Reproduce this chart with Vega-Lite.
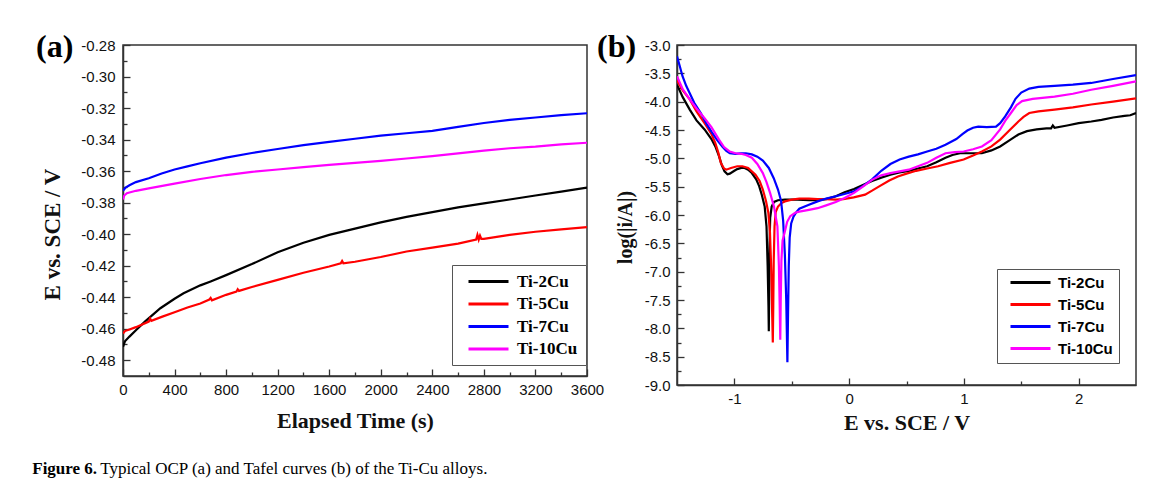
{
  "$schema": "https://vega.github.io/schema/vega-lite/v6.json",
  "background": "white",
  "padding": {"left": 32, "top": 30, "right": 10, "bottom": 20},
  "bounds": "flush",
  "spacing": 90,
  "title": {
    "text": "Figure 6.",
    "subtitle": "\u200b\u00a0\u00a0\u00a0\u00a0\u00a0\u00a0\u00a0\u00a0\u00a0\u00a0\u00a0\u00a0\u00a0\u00a0\u00a0\u00a0Typical OCP (a) and Tafel curves (b) of the Ti-Cu alloys.",
    "orient": "bottom",
    "anchor": "start",
    "frame": "bounds",
    "dx": -3,
    "font": "Liberation Serif",
    "fontSize": 17,
    "fontWeight": "bold",
    "color": "black",
    "subtitleFont": "Liberation Serif",
    "subtitleFontSize": 17,
    "subtitleFontWeight": "normal",
    "subtitleColor": "black",
    "subtitlePadding": -17,
    "offset": 27
  },
  "datasets": {
    "ocp": [
      {"s":"Ti-2Cu","t":0,"E":-0.4715},{"s":"Ti-2Cu","t":15,"E":-0.468},{"s":"Ti-2Cu","t":50,"E":-0.465},{"s":"Ti-2Cu","t":100,"E":-0.461},{"s":"Ti-2Cu","t":170,"E":-0.4555},{"s":"Ti-2Cu","t":290,"E":-0.447},{"s":"Ti-2Cu","t":400,"E":-0.441},{"s":"Ti-2Cu","t":470,"E":-0.4375},{"s":"Ti-2Cu","t":600,"E":-0.4325},{"s":"Ti-2Cu","t":680,"E":-0.43},{"s":"Ti-2Cu","t":800,"E":-0.426},{"s":"Ti-2Cu","t":1000,"E":-0.419},{"s":"Ti-2Cu","t":1200,"E":-0.4115},{"s":"Ti-2Cu","t":1400,"E":-0.4055},{"s":"Ti-2Cu","t":1600,"E":-0.4005},{"s":"Ti-2Cu","t":1800,"E":-0.3965},{"s":"Ti-2Cu","t":2000,"E":-0.3925},{"s":"Ti-2Cu","t":2200,"E":-0.389},{"s":"Ti-2Cu","t":2400,"E":-0.386},{"s":"Ti-2Cu","t":2600,"E":-0.383},{"s":"Ti-2Cu","t":2800,"E":-0.3805},{"s":"Ti-2Cu","t":3000,"E":-0.378},{"s":"Ti-2Cu","t":3200,"E":-0.3755},{"s":"Ti-2Cu","t":3400,"E":-0.373},{"s":"Ti-2Cu","t":3600,"E":-0.3705},
      {"s":"Ti-5Cu","t":0,"E":-0.463},{"s":"Ti-5Cu","t":15,"E":-0.4615},{"s":"Ti-5Cu","t":50,"E":-0.4605},{"s":"Ti-5Cu","t":100,"E":-0.459},{"s":"Ti-5Cu","t":200,"E":-0.4555},{"s":"Ti-5Cu","t":210,"E":-0.4535},{"s":"Ti-5Cu","t":220,"E":-0.455},{"s":"Ti-5Cu","t":300,"E":-0.4525},{"s":"Ti-5Cu","t":400,"E":-0.4495},{"s":"Ti-5Cu","t":500,"E":-0.4465},{"s":"Ti-5Cu","t":600,"E":-0.444},{"s":"Ti-5Cu","t":670,"E":-0.4415},{"s":"Ti-5Cu","t":680,"E":-0.4405},{"s":"Ti-5Cu","t":690,"E":-0.442},{"s":"Ti-5Cu","t":800,"E":-0.4385},{"s":"Ti-5Cu","t":880,"E":-0.4365},{"s":"Ti-5Cu","t":890,"E":-0.435},{"s":"Ti-5Cu","t":900,"E":-0.436},{"s":"Ti-5Cu","t":1000,"E":-0.4335},{"s":"Ti-5Cu","t":1200,"E":-0.429},{"s":"Ti-5Cu","t":1400,"E":-0.4245},{"s":"Ti-5Cu","t":1600,"E":-0.4205},{"s":"Ti-5Cu","t":1690,"E":-0.4185},{"s":"Ti-5Cu","t":1700,"E":-0.417},{"s":"Ti-5Cu","t":1710,"E":-0.4185},{"s":"Ti-5Cu","t":1800,"E":-0.4175},{"s":"Ti-5Cu","t":2000,"E":-0.4145},{"s":"Ti-5Cu","t":2200,"E":-0.411},{"s":"Ti-5Cu","t":2400,"E":-0.4085},{"s":"Ti-5Cu","t":2600,"E":-0.406},{"s":"Ti-5Cu","t":2740,"E":-0.4035},{"s":"Ti-5Cu","t":2750,"E":-0.4005},{"s":"Ti-5Cu","t":2760,"E":-0.4035},{"s":"Ti-5Cu","t":2770,"E":-0.401},{"s":"Ti-5Cu","t":2780,"E":-0.403},{"s":"Ti-5Cu","t":2800,"E":-0.403},{"s":"Ti-5Cu","t":3000,"E":-0.4005},{"s":"Ti-5Cu","t":3200,"E":-0.3985},{"s":"Ti-5Cu","t":3400,"E":-0.397},{"s":"Ti-5Cu","t":3600,"E":-0.3955},
      {"s":"Ti-7Cu","t":0,"E":-0.3725},{"s":"Ti-7Cu","t":20,"E":-0.3705},{"s":"Ti-7Cu","t":50,"E":-0.369},{"s":"Ti-7Cu","t":100,"E":-0.367},{"s":"Ti-7Cu","t":200,"E":-0.3645},{"s":"Ti-7Cu","t":300,"E":-0.3615},{"s":"Ti-7Cu","t":400,"E":-0.359},{"s":"Ti-7Cu","t":500,"E":-0.357},{"s":"Ti-7Cu","t":600,"E":-0.355},{"s":"Ti-7Cu","t":800,"E":-0.3515},{"s":"Ti-7Cu","t":1000,"E":-0.3485},{"s":"Ti-7Cu","t":1200,"E":-0.346},{"s":"Ti-7Cu","t":1400,"E":-0.3435},{"s":"Ti-7Cu","t":1600,"E":-0.3415},{"s":"Ti-7Cu","t":1800,"E":-0.3395},{"s":"Ti-7Cu","t":2000,"E":-0.3375},{"s":"Ti-7Cu","t":2200,"E":-0.336},{"s":"Ti-7Cu","t":2400,"E":-0.3345},{"s":"Ti-7Cu","t":2600,"E":-0.332},{"s":"Ti-7Cu","t":2800,"E":-0.3295},{"s":"Ti-7Cu","t":3000,"E":-0.3275},{"s":"Ti-7Cu","t":3200,"E":-0.326},{"s":"Ti-7Cu","t":3400,"E":-0.3245},{"s":"Ti-7Cu","t":3600,"E":-0.3233},
      {"s":"Ti-10Cu","t":0,"E":-0.378},{"s":"Ti-10Cu","t":10,"E":-0.3755},{"s":"Ti-10Cu","t":30,"E":-0.374},{"s":"Ti-10Cu","t":100,"E":-0.3725},{"s":"Ti-10Cu","t":200,"E":-0.371},{"s":"Ti-10Cu","t":400,"E":-0.368},{"s":"Ti-10Cu","t":600,"E":-0.365},{"s":"Ti-10Cu","t":800,"E":-0.3625},{"s":"Ti-10Cu","t":1000,"E":-0.3605},{"s":"Ti-10Cu","t":1200,"E":-0.359},{"s":"Ti-10Cu","t":1400,"E":-0.3575},{"s":"Ti-10Cu","t":1600,"E":-0.356},{"s":"Ti-10Cu","t":1800,"E":-0.3548},{"s":"Ti-10Cu","t":2000,"E":-0.3535},{"s":"Ti-10Cu","t":2200,"E":-0.352},{"s":"Ti-10Cu","t":2400,"E":-0.3505},{"s":"Ti-10Cu","t":2600,"E":-0.3487},{"s":"Ti-10Cu","t":2800,"E":-0.347},{"s":"Ti-10Cu","t":3000,"E":-0.3455},{"s":"Ti-10Cu","t":3200,"E":-0.3445},{"s":"Ti-10Cu","t":3400,"E":-0.343},{"s":"Ti-10Cu","t":3600,"E":-0.342}
    ],
    "tafel": [
      {"s":"Ti-2Cu","E":-1.5,"L":-3.7},{"s":"Ti-2Cu","E":-1.45,"L":-3.92},{"s":"Ti-2Cu","E":-1.389,"L":-4.14},{"s":"Ti-2Cu","E":-1.33,"L":-4.33},{"s":"Ti-2Cu","E":-1.26,"L":-4.49},{"s":"Ti-2Cu","E":-1.2,"L":-4.66},{"s":"Ti-2Cu","E":-1.166,"L":-4.79},{"s":"Ti-2Cu","E":-1.134,"L":-4.96},{"s":"Ti-2Cu","E":-1.11,"L":-5.12},{"s":"Ti-2Cu","E":-1.086,"L":-5.23},{"s":"Ti-2Cu","E":-1.06,"L":-5.28},{"s":"Ti-2Cu","E":-1.04,"L":-5.27},{"s":"Ti-2Cu","E":-1.0,"L":-5.22},{"s":"Ti-2Cu","E":-0.975,"L":-5.19},{"s":"Ti-2Cu","E":-0.94,"L":-5.17},{"s":"Ti-2Cu","E":-0.911,"L":-5.17},{"s":"Ti-2Cu","E":-0.88,"L":-5.2},{"s":"Ti-2Cu","E":-0.848,"L":-5.26},{"s":"Ti-2Cu","E":-0.81,"L":-5.37},{"s":"Ti-2Cu","E":-0.784,"L":-5.49},{"s":"Ti-2Cu","E":-0.76,"L":-5.65},{"s":"Ti-2Cu","E":-0.736,"L":-5.85},{"s":"Ti-2Cu","E":-0.72,"L":-6.2},{"s":"Ti-2Cu","E":-0.71,"L":-6.9},{"s":"Ti-2Cu","E":-0.703,"L":-7.6},{"s":"Ti-2Cu","E":-0.7,"L":-8.05},{"s":"Ti-2Cu","E":-0.697,"L":-7.4},{"s":"Ti-2Cu","E":-0.693,"L":-6.5},{"s":"Ti-2Cu","E":-0.688,"L":-6.05},{"s":"Ti-2Cu","E":-0.675,"L":-5.85},{"s":"Ti-2Cu","E":-0.655,"L":-5.77},{"s":"Ti-2Cu","E":-0.62,"L":-5.74},{"s":"Ti-2Cu","E":-0.56,"L":-5.73},{"s":"Ti-2Cu","E":-0.45,"L":-5.73},{"s":"Ti-2Cu","E":-0.35,"L":-5.74},{"s":"Ti-2Cu","E":-0.275,"L":-5.74},{"s":"Ti-2Cu","E":-0.2,"L":-5.72},{"s":"Ti-2Cu","E":-0.116,"L":-5.67},{"s":"Ti-2Cu","E":-0.04,"L":-5.6},{"s":"Ti-2Cu","E":0.043,"L":-5.54},{"s":"Ti-2Cu","E":0.12,"L":-5.47},{"s":"Ti-2Cu","E":0.2,"L":-5.4},{"s":"Ti-2Cu","E":0.28,"L":-5.34},{"s":"Ti-2Cu","E":0.36,"L":-5.29},{"s":"Ti-2Cu","E":0.44,"L":-5.25},{"s":"Ti-2Cu","E":0.52,"L":-5.22},{"s":"Ti-2Cu","E":0.6,"L":-5.18},{"s":"Ti-2Cu","E":0.68,"L":-5.14},{"s":"Ti-2Cu","E":0.76,"L":-5.07},{"s":"Ti-2Cu","E":0.84,"L":-4.99},{"s":"Ti-2Cu","E":0.9,"L":-4.94},{"s":"Ti-2Cu","E":0.966,"L":-4.91},{"s":"Ti-2Cu","E":1.05,"L":-4.91},{"s":"Ti-2Cu","E":1.157,"L":-4.91},{"s":"Ti-2Cu","E":1.24,"L":-4.86},{"s":"Ti-2Cu","E":1.316,"L":-4.79},{"s":"Ti-2Cu","E":1.4,"L":-4.68},{"s":"Ti-2Cu","E":1.475,"L":-4.58},{"s":"Ti-2Cu","E":1.55,"L":-4.52},{"s":"Ti-2Cu","E":1.634,"L":-4.49},{"s":"Ti-2Cu","E":1.72,"L":-4.47},{"s":"Ti-2Cu","E":1.76,"L":-4.47},{"s":"Ti-2Cu","E":1.775,"L":-4.42},{"s":"Ti-2Cu","E":1.79,"L":-4.46},{"s":"Ti-2Cu","E":1.9,"L":-4.42},{"s":"Ti-2Cu","E":2.0,"L":-4.38},{"s":"Ti-2Cu","E":2.11,"L":-4.35},{"s":"Ti-2Cu","E":2.2,"L":-4.32},{"s":"Ti-2Cu","E":2.3,"L":-4.28},{"s":"Ti-2Cu","E":2.4,"L":-4.25},{"s":"Ti-2Cu","E":2.45,"L":-4.24},{"s":"Ti-2Cu","E":2.5,"L":-4.2},
      {"s":"Ti-5Cu","E":-1.5,"L":-3.62},{"s":"Ti-5Cu","E":-1.45,"L":-3.8},{"s":"Ti-5Cu","E":-1.389,"L":-3.96},{"s":"Ti-5Cu","E":-1.33,"L":-4.17},{"s":"Ti-5Cu","E":-1.26,"L":-4.38},{"s":"Ti-5Cu","E":-1.2,"L":-4.57},{"s":"Ti-5Cu","E":-1.166,"L":-4.73},{"s":"Ti-5Cu","E":-1.14,"L":-4.9},{"s":"Ti-5Cu","E":-1.118,"L":-5.08},{"s":"Ti-5Cu","E":-1.09,"L":-5.18},{"s":"Ti-5Cu","E":-1.07,"L":-5.2},{"s":"Ti-5Cu","E":-1.03,"L":-5.17},{"s":"Ti-5Cu","E":-0.975,"L":-5.14},{"s":"Ti-5Cu","E":-0.93,"L":-5.14},{"s":"Ti-5Cu","E":-0.88,"L":-5.17},{"s":"Ti-5Cu","E":-0.816,"L":-5.29},{"s":"Ti-5Cu","E":-0.78,"L":-5.4},{"s":"Ti-5Cu","E":-0.752,"L":-5.55},{"s":"Ti-5Cu","E":-0.725,"L":-5.75},{"s":"Ti-5Cu","E":-0.704,"L":-5.96},{"s":"Ti-5Cu","E":-0.69,"L":-6.3},{"s":"Ti-5Cu","E":-0.678,"L":-7.0},{"s":"Ti-5Cu","E":-0.67,"L":-7.8},{"s":"Ti-5Cu","E":-0.665,"L":-8.25},{"s":"Ti-5Cu","E":-0.661,"L":-7.6},{"s":"Ti-5Cu","E":-0.657,"L":-6.8},{"s":"Ti-5Cu","E":-0.65,"L":-6.2},{"s":"Ti-5Cu","E":-0.64,"L":-5.95},{"s":"Ti-5Cu","E":-0.62,"L":-5.85},{"s":"Ti-5Cu","E":-0.59,"L":-5.79},{"s":"Ti-5Cu","E":-0.56,"L":-5.76},{"s":"Ti-5Cu","E":-0.5,"L":-5.73},{"s":"Ti-5Cu","E":-0.434,"L":-5.71},{"s":"Ti-5Cu","E":-0.35,"L":-5.71},{"s":"Ti-5Cu","E":-0.275,"L":-5.72},{"s":"Ti-5Cu","E":-0.2,"L":-5.72},{"s":"Ti-5Cu","E":-0.116,"L":-5.73},{"s":"Ti-5Cu","E":-0.05,"L":-5.72},{"s":"Ti-5Cu","E":0.04,"L":-5.69},{"s":"Ti-5Cu","E":0.139,"L":-5.64},{"s":"Ti-5Cu","E":0.2,"L":-5.57},{"s":"Ti-5Cu","E":0.266,"L":-5.49},{"s":"Ti-5Cu","E":0.35,"L":-5.39},{"s":"Ti-5Cu","E":0.425,"L":-5.32},{"s":"Ti-5Cu","E":0.5,"L":-5.27},{"s":"Ti-5Cu","E":0.584,"L":-5.22},{"s":"Ti-5Cu","E":0.68,"L":-5.18},{"s":"Ti-5Cu","E":0.775,"L":-5.14},{"s":"Ti-5Cu","E":0.88,"L":-5.08},{"s":"Ti-5Cu","E":0.998,"L":-5.02},{"s":"Ti-5Cu","E":1.08,"L":-4.95},{"s":"Ti-5Cu","E":1.157,"L":-4.88},{"s":"Ti-5Cu","E":1.24,"L":-4.79},{"s":"Ti-5Cu","E":1.316,"L":-4.67},{"s":"Ti-5Cu","E":1.4,"L":-4.5},{"s":"Ti-5Cu","E":1.475,"L":-4.35},{"s":"Ti-5Cu","E":1.52,"L":-4.27},{"s":"Ti-5Cu","E":1.57,"L":-4.2},{"s":"Ti-5Cu","E":1.65,"L":-4.17},{"s":"Ti-5Cu","E":1.79,"L":-4.14},{"s":"Ti-5Cu","E":1.95,"L":-4.1},{"s":"Ti-5Cu","E":2.11,"L":-4.05},{"s":"Ti-5Cu","E":2.3,"L":-4.0},{"s":"Ti-5Cu","E":2.5,"L":-3.94},
      {"s":"Ti-7Cu","E":-1.5,"L":-3.2},{"s":"Ti-7Cu","E":-1.475,"L":-3.38},{"s":"Ti-7Cu","E":-1.452,"L":-3.55},{"s":"Ti-7Cu","E":-1.42,"L":-3.72},{"s":"Ti-7Cu","E":-1.389,"L":-3.85},{"s":"Ti-7Cu","E":-1.35,"L":-4.02},{"s":"Ti-7Cu","E":-1.293,"L":-4.2},{"s":"Ti-7Cu","E":-1.24,"L":-4.4},{"s":"Ti-7Cu","E":-1.2,"L":-4.53},{"s":"Ti-7Cu","E":-1.15,"L":-4.68},{"s":"Ti-7Cu","E":-1.102,"L":-4.8},{"s":"Ti-7Cu","E":-1.07,"L":-4.87},{"s":"Ti-7Cu","E":-1.04,"L":-4.91},{"s":"Ti-7Cu","E":-0.99,"L":-4.92},{"s":"Ti-7Cu","E":-0.943,"L":-4.91},{"s":"Ti-7Cu","E":-0.9,"L":-4.91},{"s":"Ti-7Cu","E":-0.848,"L":-4.93},{"s":"Ti-7Cu","E":-0.8,"L":-4.97},{"s":"Ti-7Cu","E":-0.752,"L":-5.04},{"s":"Ti-7Cu","E":-0.7,"L":-5.17},{"s":"Ti-7Cu","E":-0.657,"L":-5.35},{"s":"Ti-7Cu","E":-0.62,"L":-5.55},{"s":"Ti-7Cu","E":-0.593,"L":-5.75},{"s":"Ti-7Cu","E":-0.575,"L":-6.1},{"s":"Ti-7Cu","E":-0.56,"L":-6.7},{"s":"Ti-7Cu","E":-0.548,"L":-7.5},{"s":"Ti-7Cu","E":-0.538,"L":-8.6},{"s":"Ti-7Cu","E":-0.532,"L":-7.7},{"s":"Ti-7Cu","E":-0.526,"L":-6.9},{"s":"Ti-7Cu","E":-0.518,"L":-6.4},{"s":"Ti-7Cu","E":-0.505,"L":-6.15},{"s":"Ti-7Cu","E":-0.485,"L":-6.03},{"s":"Ti-7Cu","E":-0.46,"L":-5.95},{"s":"Ti-7Cu","E":-0.434,"L":-5.89},{"s":"Ti-7Cu","E":-0.35,"L":-5.82},{"s":"Ti-7Cu","E":-0.275,"L":-5.76},{"s":"Ti-7Cu","E":-0.2,"L":-5.71},{"s":"Ti-7Cu","E":-0.116,"L":-5.67},{"s":"Ti-7Cu","E":-0.04,"L":-5.63},{"s":"Ti-7Cu","E":0.043,"L":-5.58},{"s":"Ti-7Cu","E":0.12,"L":-5.49},{"s":"Ti-7Cu","E":0.2,"L":-5.37},{"s":"Ti-7Cu","E":0.28,"L":-5.22},{"s":"Ti-7Cu","E":0.36,"L":-5.1},{"s":"Ti-7Cu","E":0.44,"L":-5.02},{"s":"Ti-7Cu","E":0.52,"L":-4.97},{"s":"Ti-7Cu","E":0.6,"L":-4.93},{"s":"Ti-7Cu","E":0.68,"L":-4.88},{"s":"Ti-7Cu","E":0.76,"L":-4.83},{"s":"Ti-7Cu","E":0.84,"L":-4.76},{"s":"Ti-7Cu","E":0.934,"L":-4.66},{"s":"Ti-7Cu","E":0.99,"L":-4.57},{"s":"Ti-7Cu","E":1.03,"L":-4.51},{"s":"Ti-7Cu","E":1.08,"L":-4.46},{"s":"Ti-7Cu","E":1.125,"L":-4.44},{"s":"Ti-7Cu","E":1.2,"L":-4.45},{"s":"Ti-7Cu","E":1.28,"L":-4.44},{"s":"Ti-7Cu","E":1.316,"L":-4.38},{"s":"Ti-7Cu","E":1.36,"L":-4.26},{"s":"Ti-7Cu","E":1.41,"L":-4.1},{"s":"Ti-7Cu","E":1.45,"L":-3.95},{"s":"Ti-7Cu","E":1.5,"L":-3.84},{"s":"Ti-7Cu","E":1.57,"L":-3.77},{"s":"Ti-7Cu","E":1.65,"L":-3.74},{"s":"Ti-7Cu","E":1.79,"L":-3.72},{"s":"Ti-7Cu","E":1.95,"L":-3.7},{"s":"Ti-7Cu","E":2.11,"L":-3.67},{"s":"Ti-7Cu","E":2.3,"L":-3.6},{"s":"Ti-7Cu","E":2.5,"L":-3.53},
      {"s":"Ti-10Cu","E":-1.5,"L":-3.55},{"s":"Ti-10Cu","E":-1.45,"L":-3.78},{"s":"Ti-10Cu","E":-1.389,"L":-3.96},{"s":"Ti-10Cu","E":-1.33,"L":-4.12},{"s":"Ti-10Cu","E":-1.26,"L":-4.29},{"s":"Ti-10Cu","E":-1.2,"L":-4.45},{"s":"Ti-10Cu","E":-1.134,"L":-4.67},{"s":"Ti-10Cu","E":-1.09,"L":-4.8},{"s":"Ti-10Cu","E":-1.04,"L":-4.88},{"s":"Ti-10Cu","E":-0.99,"L":-4.91},{"s":"Ti-10Cu","E":-0.943,"L":-4.92},{"s":"Ti-10Cu","E":-0.9,"L":-4.94},{"s":"Ti-10Cu","E":-0.848,"L":-4.99},{"s":"Ti-10Cu","E":-0.8,"L":-5.1},{"s":"Ti-10Cu","E":-0.752,"L":-5.26},{"s":"Ti-10Cu","E":-0.72,"L":-5.42},{"s":"Ti-10Cu","E":-0.689,"L":-5.61},{"s":"Ti-10Cu","E":-0.655,"L":-5.85},{"s":"Ti-10Cu","E":-0.625,"L":-6.2},{"s":"Ti-10Cu","E":-0.612,"L":-6.9},{"s":"Ti-10Cu","E":-0.605,"L":-7.6},{"s":"Ti-10Cu","E":-0.6,"L":-8.2},{"s":"Ti-10Cu","E":-0.596,"L":-7.5},{"s":"Ti-10Cu","E":-0.59,"L":-6.8},{"s":"Ti-10Cu","E":-0.58,"L":-6.45},{"s":"Ti-10Cu","E":-0.561,"L":-6.3},{"s":"Ti-10Cu","E":-0.54,"L":-6.12},{"s":"Ti-10Cu","E":-0.513,"L":-6.02},{"s":"Ti-10Cu","E":-0.47,"L":-5.96},{"s":"Ti-10Cu","E":-0.434,"L":-5.94},{"s":"Ti-10Cu","E":-0.35,"L":-5.91},{"s":"Ti-10Cu","E":-0.275,"L":-5.88},{"s":"Ti-10Cu","E":-0.2,"L":-5.83},{"s":"Ti-10Cu","E":-0.116,"L":-5.77},{"s":"Ti-10Cu","E":-0.04,"L":-5.7},{"s":"Ti-10Cu","E":0.043,"L":-5.61},{"s":"Ti-10Cu","E":0.12,"L":-5.5},{"s":"Ti-10Cu","E":0.2,"L":-5.38},{"s":"Ti-10Cu","E":0.28,"L":-5.3},{"s":"Ti-10Cu","E":0.36,"L":-5.26},{"s":"Ti-10Cu","E":0.44,"L":-5.23},{"s":"Ti-10Cu","E":0.52,"L":-5.2},{"s":"Ti-10Cu","E":0.6,"L":-5.14},{"s":"Ti-10Cu","E":0.68,"L":-5.08},{"s":"Ti-10Cu","E":0.76,"L":-4.99},{"s":"Ti-10Cu","E":0.84,"L":-4.91},{"s":"Ti-10Cu","E":0.92,"L":-4.89},{"s":"Ti-10Cu","E":0.998,"L":-4.88},{"s":"Ti-10Cu","E":1.08,"L":-4.84},{"s":"Ti-10Cu","E":1.157,"L":-4.79},{"s":"Ti-10Cu","E":1.24,"L":-4.68},{"s":"Ti-10Cu","E":1.316,"L":-4.49},{"s":"Ti-10Cu","E":1.36,"L":-4.34},{"s":"Ti-10Cu","E":1.41,"L":-4.2},{"s":"Ti-10Cu","E":1.46,"L":-4.06},{"s":"Ti-10Cu","E":1.507,"L":-3.99},{"s":"Ti-10Cu","E":1.6,"L":-3.95},{"s":"Ti-10Cu","E":1.79,"L":-3.91},{"s":"Ti-10Cu","E":1.95,"L":-3.86},{"s":"Ti-10Cu","E":2.11,"L":-3.79},{"s":"Ti-10Cu","E":2.3,"L":-3.72},{"s":"Ti-10Cu","E":2.5,"L":-3.64}
    ]
  },
  "hconcat": [
    {
      "width": 464,
      "height": 331,
      "title": {"text": "(a)", "anchor": "start", "frame": "group", "dx": -87, "dy": 26, "offset": 0, "fontSize": 32, "font": "Liberation Serif", "fontWeight": "bold", "color": "black"},
      "data": {"name": "ocp"},
      "mark": {"type": "line", "strokeWidth": 2.2, "clip": true},
      "encoding": {
        "x": {
          "field": "t", "type": "quantitative",
          "scale": {"domain": [0, 3600], "nice": false, "zero": false},
          "axis": {
            "title": "Elapsed Time (s)",
            "values": [0,200,400,600,800,1000,1200,1400,1600,1800,2000,2200,2400,2600,2800,3000,3200,3400,3600],
            "format": "d",
            "labelExpr": "datum.value % 400 === 0 ? datum.label : ''",
            "tickSize": {"condition": {"test": "datum.value % 400 !== 0", "value": -4}, "value": -7},
            "labelPadding": 13,
            "titlePadding": 10
          }
        },
        "y": {
          "field": "E", "type": "quantitative",
          "scale": {"domain": [-0.49, -0.28], "nice": false, "zero": false},
          "axis": {
            "title": "E vs. SCE / V",
            "titleFontSize": 23,
            "titleY": 189,
            "values": [-0.48,-0.47,-0.46,-0.45,-0.44,-0.43,-0.42,-0.41,-0.4,-0.39,-0.38,-0.37,-0.36,-0.35,-0.34,-0.33,-0.32,-0.31,-0.3,-0.29,-0.28],
            "format": ".2f",
            "labelExpr": "round(datum.value*100) % 2 === 0 ? replace(datum.label, '−', '-') : ''",
            "tickSize": {"condition": {"test": "round(datum.value*100) % 2 !== 0", "value": -4}, "value": -7},
            "labelPadding": 15,
            "titlePadding": 16
          }
        },
        "color": {
          "field": "s", "type": "nominal",
          "scale": {"domain": ["Ti-2Cu", "Ti-5Cu", "Ti-7Cu", "Ti-10Cu"], "range": ["#000000", "#ff0000", "#0000ff", "#ff00ff"]},
          "legend": {
            "orient": "none", "legendX": 329, "legendY": 220, "title": null,
            "symbolType": "M0,0H10", "symbolSize": 64, "symbolStrokeWidth": 3,
            "labelOffset": 40, "labelFont": "Liberation Serif", "labelFontWeight": "bold", "labelFontSize": 17, "labelColor": "black",
            "strokeColor": "#555", "fillColor": "white", "padding": 8, "rowPadding": 4.5
          }
        }
      }
    },
    {
      "width": 459,
      "height": 340,
      "title": {"text": "(b)", "anchor": "start", "frame": "group", "dx": -80, "dy": 26, "offset": 0, "fontSize": 32, "font": "Liberation Serif", "fontWeight": "bold", "color": "black"},
      "data": {"name": "tafel"},
      "mark": {"type": "line", "strokeWidth": 2.2, "clip": true},
      "encoding": {
        "x": {
          "field": "E", "type": "quantitative",
          "scale": {"domain": [-1.5, 2.5], "nice": false, "zero": false},
          "axis": {
            "title": "E vs. SCE / V",
            "values": [-1, -0.5, 0, 0.5, 1, 1.5, 2],
            "format": ".0f",
            "labelExpr": "abs(datum.value - round(datum.value)) < 0.01 ? replace(datum.label, '−', '-') : ''",
            "tickSize": {"condition": {"test": "abs(datum.value - round(datum.value)) > 0.01", "value": -4}, "value": -7},
            "labelPadding": 13,
            "titlePadding": 3
          }
        },
        "y": {
          "field": "L", "type": "quantitative",
          "scale": {"domain": [-9, -3], "nice": false, "zero": false},
          "axis": {
            "title": "log(|i/A|)",
            "titleFontSize": 20,
            "titleY": 182,
            "values": [-9,-8.75,-8.5,-8.25,-8,-7.75,-7.5,-7.25,-7,-6.75,-6.5,-6.25,-6,-5.75,-5.5,-5.25,-5,-4.75,-4.5,-4.25,-4,-3.75,-3.5,-3.25,-3],
            "format": ".1f",
            "labelExpr": "abs(datum.value*2 - round(datum.value*2)) < 0.01 ? replace(datum.label, '−', '-') : ''",
            "tickSize": {"condition": {"test": "abs(datum.value*2 - round(datum.value*2)) > 0.01", "value": -4}, "value": -7},
            "labelPadding": 14,
            "titlePadding": 9
          }
        },
        "color": {
          "field": "s", "type": "nominal",
          "scale": {"domain": ["Ti-2Cu", "Ti-5Cu", "Ti-7Cu", "Ti-10Cu"], "range": ["#000000", "#ff0000", "#0000ff", "#ff00ff"]},
          "legend": {
            "orient": "none", "legendX": 320, "legendY": 224, "title": null,
            "symbolType": "M0,0H10", "symbolSize": 64, "symbolStrokeWidth": 3,
            "labelOffset": 40, "labelFont": "Liberation Sans", "labelFontWeight": "bold", "labelFontSize": 15, "labelColor": "black",
            "strokeColor": "#555", "fillColor": "white", "padding": 6, "rowPadding": 6
          }
        }
      }
    }
  ],
  "resolve": {"scale": {"color": "independent"}, "legend": {"color": "independent"}},
  "config": {
    "view": {"stroke": "#333", "strokeWidth": 1.5},
    "axis": {
      "grid": false,
      "domainColor": "#333", "domainWidth": 1.5,
      "tickColor": "#333", "tickWidth": 1.3,
      "labelFont": "Liberation Sans", "labelFontSize": 15, "labelColor": "#111",
      "labelOverlap": false, "labelFlush": false,
      "titleFont": "Liberation Serif", "titleFontWeight": "bold", "titleFontSize": 22, "titleColor": "#111"
    }
  }
}
